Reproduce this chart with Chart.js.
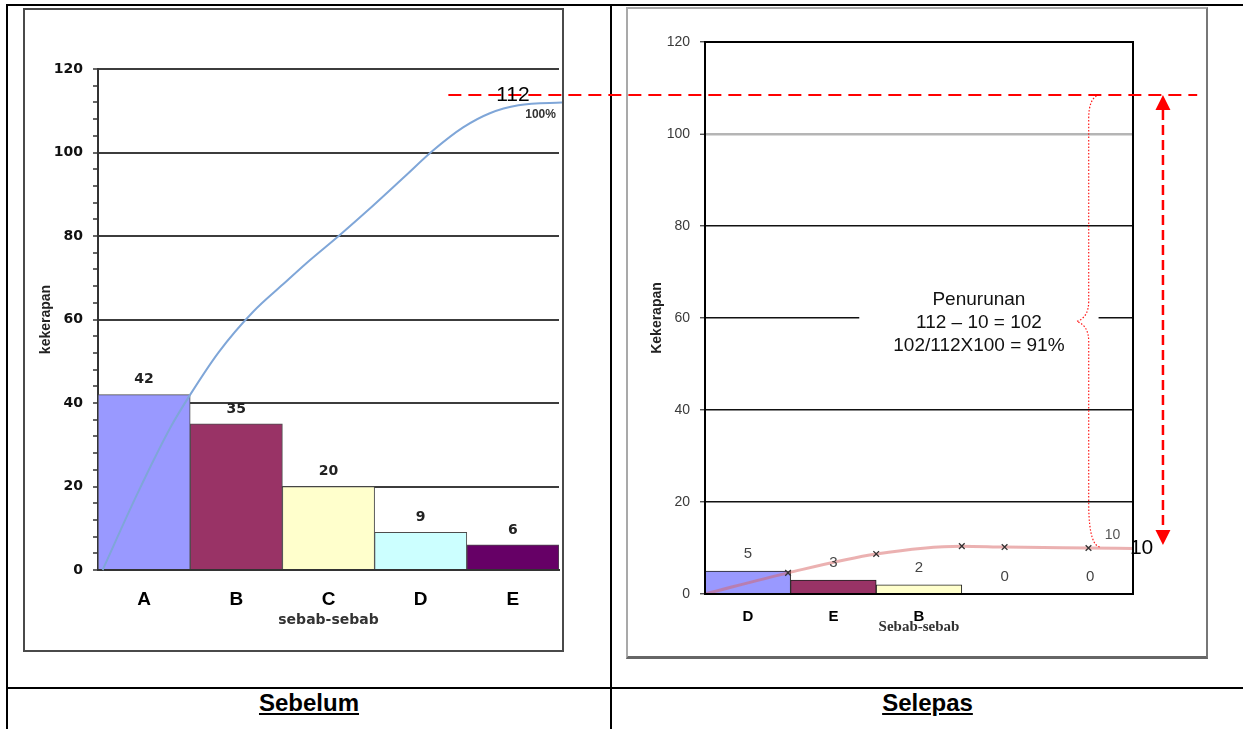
<!DOCTYPE html>
<html>
<head>
<meta charset="utf-8">
<title>Sebelum / Selepas</title>
<script src="https://cdn.jsdelivr.net/npm/chart.js@4.4.1/dist/chart.umd.min.js"></script>
<style>
  html, body { margin: 0; padding: 0; background: #fff; }
  body { position: relative; width: 1243px; height: 729px; overflow: hidden;
         font-family: "Liberation Sans", Arial, sans-serif; }
  .rule { position: absolute; background: #000; }
  .frame { position: absolute; background: #fff; }
  #frameBefore { left: 23px; top: 8px; width: 537px; height: 640px; border: 2px solid #4a4a4a; }
  #frameAfter  { left: 626px; top: 7px; width: 578px; height: 647px;
                 border: 2px solid #a9a9a9; border-right-color: #777; border-bottom: 3px solid #666; }
  canvas { display: block; }
  .caption { position: absolute; top: 689px; height: 30px; line-height: 28px; text-align: center;
             font-weight: bold; font-size: 24px; text-decoration: underline; color: #000; }
  #notes { position: absolute; left: 0; top: 0; pointer-events: none; }
</style>
</head>
<body>
  <div class="rule" style="left:6px;top:4px;width:1237px;height:2px"></div>
  <div class="rule" style="left:6px;top:4px;width:2px;height:725px"></div>
  <div class="rule" style="left:610px;top:4px;width:2px;height:725px"></div>
  <div class="rule" style="left:6px;top:687px;width:1237px;height:2px"></div>

  <div class="frame" id="frameBefore"><canvas id="chartBefore" width="537" height="640"></canvas></div>
  <div class="frame" id="frameAfter"><canvas id="chartAfter" width="578" height="647"></canvas></div>

  <div class="caption" style="left:8px;width:602px">Sebelum</div>
  <div class="caption" style="left:612px;width:631px">Selepas</div>

  <canvas id="notes" width="1243" height="729"></canvas>

<script>
// ---- Sebelum: frequency of each cause ----
const causesBefore = ['A', 'B', 'C', 'D', 'E'];
const countsBefore = [42, 35, 20, 9, 6];
const barColorsBefore = ['#9999ff', '#993366', '#ffffcc', '#ccffff', '#660066'];
// cumulative curve; x measured in category widths from the left edge of A
const cumBeforeX = [0.05, 0.43, 0.79, 1.0, 1.31, 1.68, 2.01, 2.26, 2.62, 2.97, 3.33, 3.63, 3.96, 4.25, 4.56, 5.07];
const cumBeforeY = [0, 18.4, 34.3, 42, 52.2, 61.8, 68.5, 73.5, 80.2, 87.0, 94.3, 100.4, 106.0, 109.4, 111.3, 112];

// ---- Selepas ----
const causesAfter = ['D', 'E', 'B', '', ''];
const countsAfter = [5, 3, 2, 0, 0];
const barColorsAfter = ['#9999ff', '#993366', '#ffffcc', '#ffffff', '#ffffff'];
const cumAfterX = [0, 0.97, 2.0, 3.0, 3.5, 4.48, 5.0];
const cumAfterY = [0, 4.6, 8.7, 10.4, 10.2, 10, 9.9];
const cumAfterMarkers = [0, 4, 4, 4, 4, 4, 0];

// ---- shared axis settings ----
const yMax = 120;
const yMajorStep = 20;
const yMinorStep = 4;

// ---- totals used by the notes ----
const totalBefore = 112;
const totalAfter = 10;
const guideLevel = 113.8;          // height of the red guide line on the "Sebelum" axis
const reduction = totalBefore - totalAfter;
const reductionPct = Math.round(reduction / totalBefore * 100);
const noteLines = ['Penurunan', `${totalBefore} \u2013 ${totalAfter} = ${reduction}`,
                   `${reduction}/${totalBefore}X100 = ${reductionPct}%`];

const toPoints = (xs, ys) => xs.map((x, i) => ({ x, y: ys[i] }));

// hidden linear axis running along the category band, 0 = left edge, 5 = right edge
const bandAxis = { type: 'linear', display: false, min: 0, max: 5, offset: false, grid: { offset: false } };

function barValueLabels(datasetIndex, lift, font, color) {
  return {
    id: 'barValueLabels',
    afterDatasetsDraw(chart) {
      const { ctx } = chart;
      const meta = chart.getDatasetMeta(datasetIndex);
      const values = chart.data.datasets[datasetIndex].data;
      ctx.save();
      ctx.font = font;
      ctx.fillStyle = color;
      ctx.textAlign = 'center';
      ctx.textBaseline = 'middle';
      meta.data.forEach((bar, i) => ctx.fillText(String(values[i]), bar.x, bar.y - lift));
      ctx.restore();
    }
  };
}

// ---------------- Sebelum ----------------
const leftChart = new Chart(document.getElementById('chartBefore'), {
  type: 'bar',
  data: {
    labels: causesBefore,
    datasets: [
      {
        type: 'line', xAxisID: 'xl', yAxisID: 'y', order: 0,
        data: toPoints(cumBeforeX, cumBeforeY),
        borderColor: '#7fa6d8', borderWidth: 2, pointRadius: 0,
        cubicInterpolationMode: 'monotone', clip: false
      },
      {
        type: 'bar', xAxisID: 'x', yAxisID: 'y', order: 1, grouped: false,
        data: countsBefore,
        backgroundColor: barColorsBefore, borderColor: '#4d4d4d', borderWidth: 1,
        categoryPercentage: 1, barPercentage: 1
      }
    ]
  },
  options: {
    responsive: false, animation: false, events: [],
    layout: { padding: { top: 59, right: 3, left: 0, bottom: 0 } },
    plugins: { legend: { display: false }, tooltip: { enabled: false } },
    scales: {
      x: {
        type: 'category',
        grid: { display: false, drawTicks: false },
        border: { display: true, color: '#333', width: 2 },
        ticks: { color: '#000', padding: 18, autoSkip: false, maxRotation: 0,
                 font: { family: 'Liberation Sans', weight: 'bold', size: 19 } },
        title: { display: true, text: 'sebab-sebab', color: '#333',
                 font: { family: 'DejaVu Sans', weight: 'bold', size: 14 },
                 padding: { top: 0, bottom: 21 } },
        afterFit: s => { s.height = 80; }
      },
      xl: bandAxis,
      y: {
        min: 0, max: yMax,
        ticks: { stepSize: yMinorStep, autoSkip: false, padding: 10, color: '#111',
                 font: { family: 'DejaVu Sans', weight: 'bold', size: 14 },
                 callback: v => (v % yMajorStep === 0 ? v : '') },
        grid: {
          color: c => (c.tick && c.tick.value % yMajorStep === 0 && c.tick.value !== 0) ? '#3c3c3c' : 'rgba(0,0,0,0)',
          lineWidth: 2, tickColor: '#333', tickLength: 5, tickWidth: 1.5
        },
        border: { display: true, color: '#333', width: 2 },
        title: { display: true, text: 'kekerapan', color: '#222',
                 font: { family: 'Liberation Sans', weight: 'bold', size: 14 },
                 padding: { top: 12.6, bottom: 0 } },
        afterFit: s => { s.width = 73; }
      }
    }
  },
  plugins: [barValueLabels(1, 15, 'bold 14px "DejaVu Sans"', '#222')]
});

// ---------------- Selepas ----------------
const plotFrame = {
  id: 'plotFrame',
  afterDatasetsDraw(chart) {
    const { ctx, chartArea: a } = chart;
    ctx.save();
    ctx.strokeStyle = '#000';
    ctx.lineWidth = 2;
    ctx.strokeRect(a.left, a.top, a.right - a.left, a.bottom - a.top);
    ctx.restore();
  }
};

const lastPointLabel = {
  id: 'lastPointLabel',
  afterDatasetsDraw(chart) {
    const { ctx } = chart;
    const meta = chart.getDatasetMeta(0);
    const i = cumAfterY.indexOf(totalAfter);
    const pt = meta.data[i];
    ctx.save();
    ctx.font = '14px "Liberation Sans"';
    ctx.fillStyle = '#555';
    ctx.textAlign = 'center';
    ctx.textBaseline = 'middle';
    ctx.fillText(String(cumAfterY[i]), pt.x + 24, pt.y - 13);
    ctx.restore();
  }
};

const rightChart = new Chart(document.getElementById('chartAfter'), {
  type: 'bar',
  data: {
    labels: causesAfter,
    datasets: [
      {
        type: 'line', xAxisID: 'xl', yAxisID: 'y', order: 0,
        data: toPoints(cumAfterX, cumAfterY),
        borderColor: 'rgba(215,100,100,0.5)', borderWidth: 3,
        cubicInterpolationMode: 'monotone',
        pointStyle: 'crossRot', pointRadius: cumAfterMarkers,
        pointBorderColor: '#333', pointBackgroundColor: '#333', pointBorderWidth: 1.3
      },
      {
        type: 'bar', xAxisID: 'x', yAxisID: 'y', order: 1, grouped: false,
        data: countsAfter,
        backgroundColor: barColorsAfter, borderColor: '#222', borderWidth: 1,
        categoryPercentage: 1, barPercentage: 1
      }
    ]
  },
  options: {
    responsive: false, animation: false, events: [],
    layout: { padding: { top: 33, right: 73, left: 0, bottom: 0 } },
    plugins: { legend: { display: false }, tooltip: { enabled: false } },
    scales: {
      x: {
        type: 'category',
        grid: { display: false, drawTicks: false },
        border: { display: true, color: '#000', width: 2 },
        ticks: { color: '#000', padding: 14, autoSkip: false, maxRotation: 0,
                 font: { family: 'Liberation Sans', weight: 'bold', size: 15 } },
        title: { display: true, text: 'Sebab-sebab', color: '#333',
                 font: { family: 'Liberation Serif', weight: 'bold', size: 15 },
                 padding: { top: 0, bottom: 20 } },
        afterFit: s => { s.height = 62; }
      },
      xl: bandAxis,
      y: {
        min: 0, max: yMax,
        ticks: { stepSize: yMajorStep, padding: 10, color: '#3a3a3a',
                 font: { family: 'Liberation Sans', size: 14 } },
        grid: {
          color: c => {
            const v = c.tick ? c.tick.value : -1;
            if (v === 100) return '#b5b5b5';
            return (v > 0) ? '#111' : 'rgba(0,0,0,0)';
          },
          lineWidth: c => (c.tick && c.tick.value === 100 ? 2.5 : 1.5),
          tickColor: '#333', tickLength: 5, tickWidth: 1.2
        },
        border: { display: true, color: '#000', width: 2 },
        title: { display: true, text: 'Kekerapan', color: '#222',
                 font: { family: 'Liberation Sans', weight: 'bold', size: 14 },
                 padding: { top: 20.6, bottom: 0 } },
        afterFit: s => { s.width = 77; }
      }
    }
  },
  plugins: [plotFrame, barValueLabels(1, 17, '15px "Liberation Sans"', '#444'), lastPointLabel]
});

// ---------------- notes across both charts ----------------
function drawNotes() {
  const ctx = document.getElementById('notes').getContext('2d');
  const lb = leftChart.canvas.getBoundingClientRect();
  const rb = rightChart.canvas.getBoundingClientRect();
  const lx = v => lb.left + leftChart.scales.xl.getPixelForValue(v);
  const ly = v => lb.top + leftChart.scales.y.getPixelForValue(v);
  const rx = v => rb.left + rightChart.scales.xl.getPixelForValue(v);
  const ry = v => rb.top + rightChart.scales.y.getPixelForValue(v);

  const guideY = ly(guideLevel);
  const afterY = ry(totalAfter);

  // reduction note on a white panel
  ctx.save();
  ctx.font = '19px "Liberation Sans", Arial, sans-serif';
  const tx = rx(3.2), ty = ry(59);
  const panelW = Math.max(...noteLines.map(t => ctx.measureText(t).width)) + 68;
  ctx.fillStyle = '#fff';
  ctx.fillRect(tx - panelW / 2, ty - 36, panelW, 72);
  ctx.fillStyle = '#111';
  ctx.textAlign = 'center';
  ctx.textBaseline = 'middle';
  noteLines.forEach((t, i) => ctx.fillText(t, tx, ty + (i - 1) * 23));
  ctx.restore();

  // dotted brace spanning the drop
  ctx.save();
  const bx = rx(4.5) - 1.5;
  const bMid = (guideY + afterY) / 2;
  ctx.strokeStyle = '#ff1a1a';
  ctx.lineWidth = 1.2;
  ctx.setLineDash([1.5, 1.8]);
  ctx.beginPath();
  ctx.moveTo(bx + 11, guideY);
  ctx.quadraticCurveTo(bx, guideY + 2, bx, guideY + 24);
  ctx.lineTo(bx, bMid - 20);
  ctx.quadraticCurveTo(bx, bMid - 4, bx - 12, bMid);
  ctx.quadraticCurveTo(bx, bMid + 4, bx, bMid + 20);
  ctx.lineTo(bx, afterY - 45);
  ctx.bezierCurveTo(bx, afterY - 10, bx + 6, afterY - 2, bx + 11, afterY - 1);
  ctx.stroke();
  ctx.restore();

  // red dashed guide at the "Sebelum" total
  ctx.save();
  ctx.strokeStyle = '#ff0000';
  ctx.lineWidth = 2;
  ctx.setLineDash([13, 7]);
  ctx.beginPath();
  ctx.moveTo(lx(3.8), guideY);
  ctx.lineTo(rx(5.75), guideY);
  ctx.stroke();
  ctx.restore();

  // dashed double arrow
  ctx.save();
  const ax = rx(5.35), aTop = guideY, aBot = afterY - 3;
  ctx.strokeStyle = '#ff0000';
  ctx.fillStyle = '#ff0000';
  ctx.lineWidth = 2.5;
  ctx.setLineDash([10, 5]);
  ctx.beginPath();
  ctx.moveTo(ax, aTop + 15);
  ctx.lineTo(ax, aBot - 15);
  ctx.stroke();
  ctx.setLineDash([]);
  ctx.beginPath();
  ctx.moveTo(ax, aTop); ctx.lineTo(ax - 7.5, aTop + 15); ctx.lineTo(ax + 7.5, aTop + 15); ctx.closePath();
  ctx.moveTo(ax, aBot); ctx.lineTo(ax - 7.5, aBot - 15); ctx.lineTo(ax + 7.5, aBot - 15); ctx.closePath();
  ctx.fill();
  ctx.restore();

  // totals
  ctx.save();
  ctx.textAlign = 'center';
  ctx.textBaseline = 'middle';
  ctx.fillStyle = '#000';
  ctx.font = '21px "Liberation Sans", Arial, sans-serif';
  ctx.fillText(String(totalBefore), lx(4.5), guideY);
  ctx.fillText(String(totalAfter), rx(5.1), afterY);
  ctx.fillStyle = '#333';
  ctx.font = 'bold 12px "Liberation Sans", Arial, sans-serif';
  ctx.fillText('100%', lx(4.8), ly(totalBefore) + 12);
  ctx.restore();
}
drawNotes();
</script>
</body>
</html>
